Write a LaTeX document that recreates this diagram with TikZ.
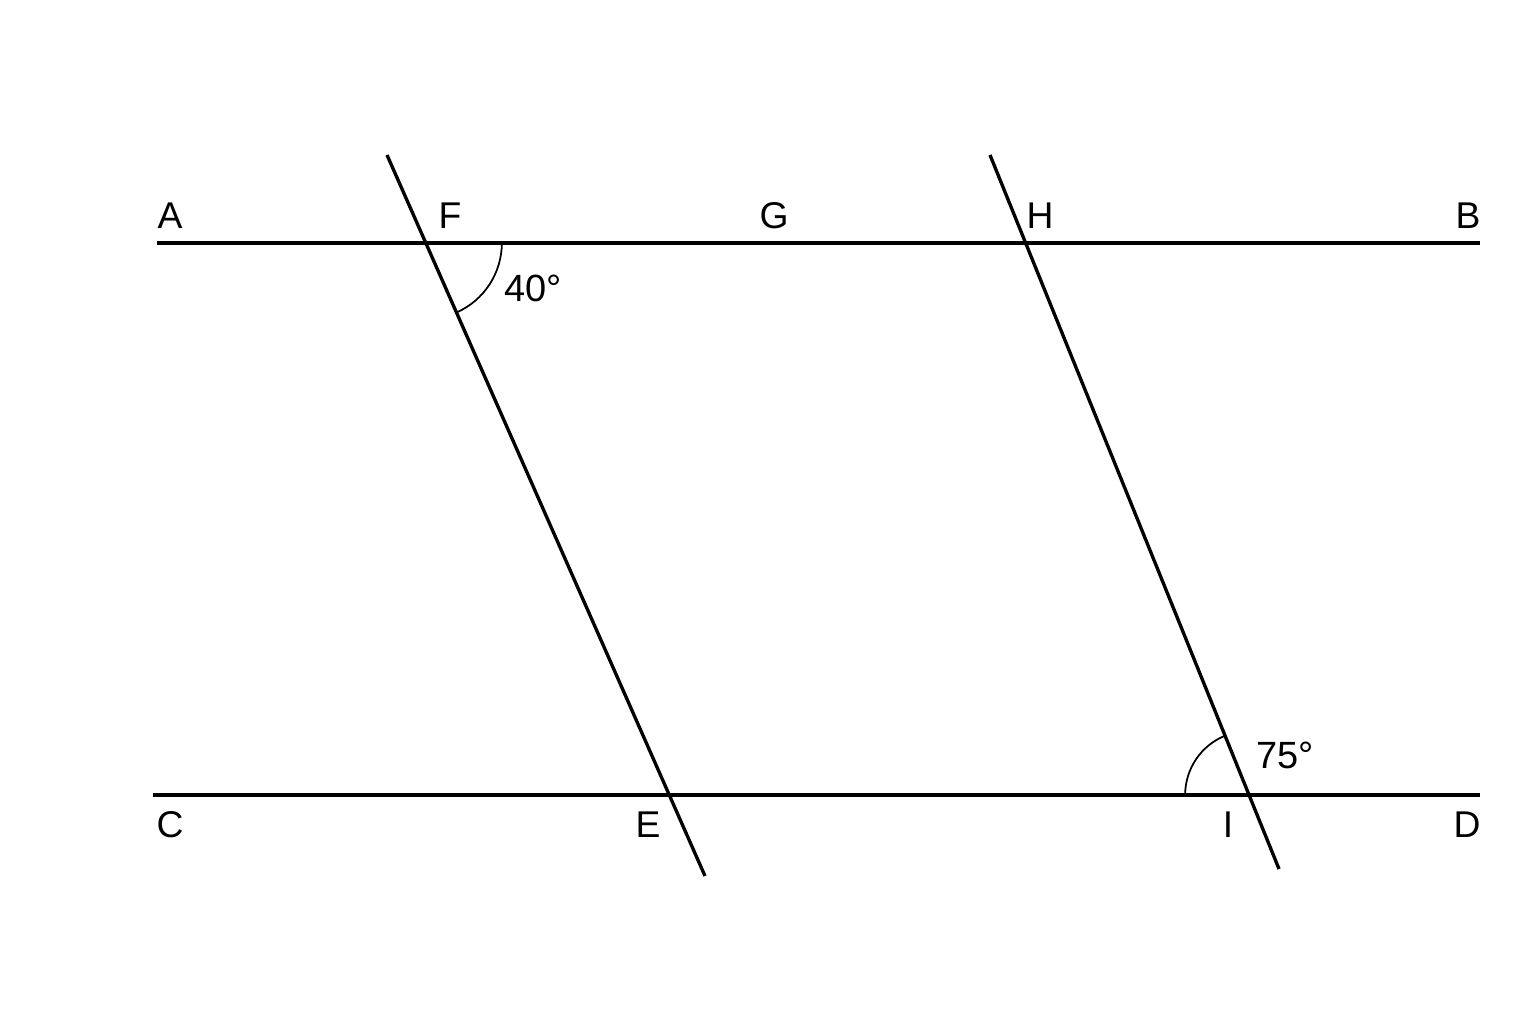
\documentclass[tikz,border=0pt]{standalone}
\usepackage{fontspec}
\setmainfont{Liberation Sans}
\usepackage{tikz}
\usetikzlibrary{positioning}
\tikzset{
    lineseg/.style={line width=0.95pt, black},
    anglearc/.style={line width=0.5pt, black},
    ptlabel/.style={inner sep=0pt, font=\fontsize{10.6}{12}\selectfont},
    anglabel/.style={inner sep=0pt, font=\fontsize{10.8}{12}\selectfont}
}

\begin{document}
\begin{tikzpicture}
    \useasboundingbox (0,0) rectangle (15.36,10.24);

    % End points of the lines
    \coordinate (A) at (1.57,7.81);
    \coordinate (B) at (14.80,7.81);
    \coordinate (C) at (1.53,2.29);
    \coordinate (D) at (14.80,2.29);
    \coordinate (t1top) at (3.87,8.69);
    \coordinate (t1bot) at (7.05,1.48);
    \coordinate (t2top) at (9.90,8.69);
    \coordinate (t2bot) at (12.79,1.55);

    % Intersection points
    \coordinate (F) at (intersection of A--B and t1top--t1bot);
    \coordinate (E) at (intersection of C--D and t1top--t1bot);
    \coordinate (H) at (intersection of A--B and t2top--t2bot);
    \coordinate (I) at (intersection of C--D and t2top--t2bot);

    % Parallel lines
    \draw[lineseg] (A) -- (B);
    \draw[lineseg] (C) -- (D);

    % Transversals
    \draw[lineseg] (t1top) -- (t1bot);
    \draw[lineseg] (t2top) -- (t2bot);

    % Angle arcs
    \draw[anglearc] ([xshift=0.76cm]F) arc[start angle=0, end angle=-66.2, radius=0.76cm];
    \draw[anglearc] ([xshift=-0.64cm]I) arc[start angle=180, end angle=112, radius=0.64cm];

    % Point labels
    \node[ptlabel] (lblA) at (1.70,8.08) {A};
    \node[ptlabel] (lblF) at (4.50,8.08) {F};
    \node[ptlabel] (lblG) at (7.74,8.08) {G};
    \node[ptlabel] (lblH) at (10.40,8.08) {H};
    \node[ptlabel] (lblB) at (14.68,8.08) {B};
    \node[ptlabel] (lblC) at (1.70,1.99) {C};
    \node[ptlabel] (lblE) at (6.48,1.99) {E};
    \node[ptlabel] (lblI) at (12.28,1.99) {I};
    \node[ptlabel] (lblD) at (14.67,1.99) {D};

    % Angle labels
    \node[anglabel] (ang40) at (5.33,7.36) {40°};
    \node[anglabel] (ang75) at (12.85,2.69) {75°};
\end{tikzpicture}
\end{document}
